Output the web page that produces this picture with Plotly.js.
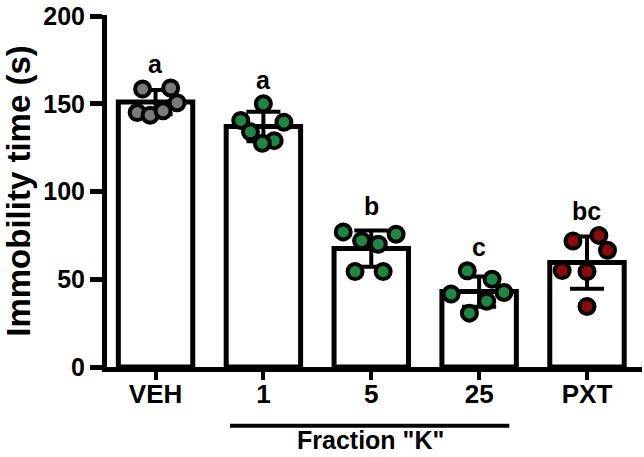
<!DOCTYPE html>
<html>
<head>
<meta charset="utf-8">
<script src="https://cdn.plot.ly/plotly-3.0.1.min.js"></script>
<style>html,body{margin:0;padding:0;background:#fff;}#chart{width:644px;height:457px;}</style>
</head>
<body>
<div id="chart"></div>
<script>
// ---- data ----
const categories = ['VEH', '1', '5', '25', 'PXT'];
const means = [151, 137, 67.5, 43, 59.5];
const sds = [6.9, 8.4, 10.3, 8.6, 14.9];
const letters = ['a', 'a', 'b', 'c', 'bc'];
const ptsVEH = [158.4, 159, 150.6, 145, 143.5, 146];
const ptsK1 = [150, 140.5, 139.5, 134, 129, 127.5];
const ptsK5 = [77, 72, 70, 75.7, 54.4, 54.4];
const ptsK25 = [54.8, 50, 41.6, 42.5, 37.5, 30.7];
const ptsPXT = [71.8, 75, 66.5, 55, 54.4, 34.5];
const jitVEH = [-0.12, 0.14, 0.2, -0.17, -0.05, 0.07];
const jitK1 = [0, -0.21, 0.19, -0.12, 0.10, -0.01];
const jitK5 = [-0.26, -0.09, 0.065, 0.23, -0.15, 0.11];
const jitK25 = [-0.11, 0.12, -0.26, 0.23, 0.07, -0.09];
const jitPXT = [-0.13, 0.11, 0.19, -0.23, 0, 0];
const yTicks = [0, 50, 100, 150, 200];
const groupLabel = 'Fraction "K"';

const pointSets = [ptsVEH, ptsK1, ptsK5, ptsK25, ptsPXT];
const jitSets = [jitVEH, jitK1, jitK5, jitK25, jitPXT];
const pointColors = ['#7a7a7a', '#1b8a40', '#1b8a40', '#1b8a40', '#8e0a0a'];

const FONT = 'Liberation Sans, Arial, sans-serif';
const xs = categories.map((c, i) => i);

const traces = [{
  type: 'bar',
  x: xs,
  y: means,
  width: 0.69,
  marker: {color: '#ffffff', line: {color: '#000', width: 5}},
  error_y: {type: 'data', array: sds, visible: true, color: '#000', thickness: 4, width: 17},
  hoverinfo: 'skip',
  showlegend: false
}];

pointSets.forEach((pts, i) => {
  traces.push({
    type: 'scatter',
    mode: 'markers',
    x: pts.map((v, j) => i + jitSets[i][j]),
    y: pts,
    marker: {size: 15, color: pointColors[i], line: {color: '#000', width: 4}},
    showlegend: false,
    hoverinfo: 'skip'
  });
});

const annotations = letters.map((t, i) => ({
  x: i, y: Math.max(...pointSets[i], means[i] + sds[i]),
  xref: 'x', yref: 'y', text: t, showarrow: false,
  yanchor: 'bottom', yshift: 8,
  font: {family: FONT, size: 25, color: '#000', weight: 'bold'}
}));
annotations.push({
  x: 1.99, y: -0.207, xref: 'x', yref: 'paper', text: groupLabel, showarrow: false,
  yanchor: 'middle',
  font: {family: FONT, size: 25, color: '#000', weight: 'bold'}
});

const layout = {
  width: 644, height: 457,
  margin: {l: 107, r: 2, t: 15, b: 90},
  paper_bgcolor: '#fff', plot_bgcolor: '#fff',
  bargap: 0,
  xaxis: {
    range: [-0.45, 4.51],
    tickvals: xs, ticktext: categories,
    showgrid: false, zeroline: false,
    showline: true, linecolor: '#000', linewidth: 5,
    ticks: 'outside', ticklen: 8, tickwidth: 4, tickcolor: '#000',
    ticklabelstandoff: -8,
    ticklabeloverflow: 'allow',
    tickfont: {family: FONT, size: 26, color: '#000', weight: 'bold'},
    fixedrange: true
  },
  yaxis: {
    range: [0, 200.6],
    tickvals: yTicks,
    ticktext: yTicks.map(String),
    showgrid: false, zeroline: false,
    showline: true, linecolor: '#000', linewidth: 5,
    ticks: 'outside', ticklen: 12, tickwidth: 5, tickcolor: '#000',
    ticklabeloverflow: 'allow',
    tickfont: {family: FONT, size: 25, color: '#000', weight: 'bold'},
    title: {text: 'Immobility time (s)', standoff: 6,
            font: {family: FONT, size: 33, color: '#000', weight: 'bold'}},
    fixedrange: true
  },
  shapes: [{
    type: 'line', xref: 'x', yref: 'paper',
    x0: 0.69, x1: 3.28, y0: -0.167, y1: -0.167,
    line: {color: '#000', width: 4}
  }],
  annotations: annotations
};

Plotly.newPlot('chart', traces, layout, {displayModeBar: false, staticPlot: true});
</script>
</body>
</html>
